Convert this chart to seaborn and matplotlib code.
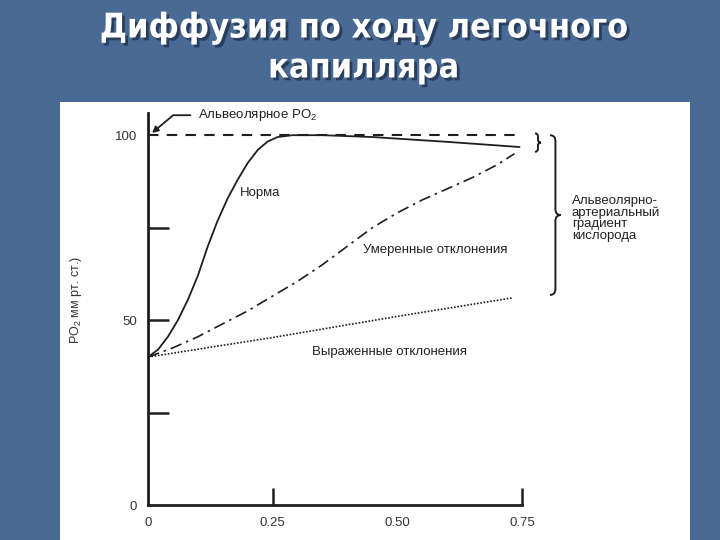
import numpy as np
import pandas as pd
import seaborn as sns
import matplotlib.pyplot as plt
import matplotlib.patheffects as pe
from matplotlib.path import Path
from matplotlib.patches import PathPatch, Rectangle

# Data (fraction of capillary transit time, s; PO2, mm Hg)
norm_x = [0, 0.02, 0.04, 0.06, 0.08, 0.10, 0.12, 0.14, 0.16, 0.18, 0.20, 0.22,
          0.24, 0.26, 0.29, 0.35, 0.45, 0.60, 0.745]
norm_y = [40, 42, 45.5, 50, 55.5, 62, 70, 77, 83, 88, 92.5, 96,
          98.3, 99.5, 100, 100, 99.5, 98.2, 96.8]
mod_x = [0, 0.05, 0.10, 0.15, 0.20, 0.25, 0.30, 0.35, 0.40, 0.45, 0.50,
         0.55, 0.60, 0.65, 0.70, 0.735]
mod_y = [40, 42.5, 45.5, 49, 52.5, 56.5, 60.5, 65, 70, 75, 79,
         82.5, 85.5, 88.5, 92, 95]
sev_x = [0, 0.25, 0.50, 0.73]
sev_y = [40, 45.3, 51, 56]
alv_po2 = 100

x_ticks = [0, 0.25, 0.50, 0.75]
x_tick_labels = ['0', '0.25', '0.50', '0.75']
y_ticks = [0, 50, 100]
y_tick_labels = ['0', '50', '100']

title_lines = ['Диффузия по ходу легочного', 'капилляра']

sns.set_theme(style='white')
plt.rcParams['font.family'] = ['Liberation Sans', 'DejaVu Sans']
plt.rcParams['mathtext.fontset'] = 'custom'
plt.rcParams['mathtext.rm'] = 'Liberation Sans'
plt.rcParams['mathtext.it'] = 'Liberation Sans'

ink = '#1e1e1e'
bg = '#4a6a96'

fig = plt.figure(figsize=(7.2, 5.4), dpi=100, facecolor=bg)
fig.add_artist(Rectangle((60 / 720, 0), 630 / 720, 438 / 540, transform=fig.transFigure,
                         facecolor='white', edgecolor='none', zorder=-1))

ax = fig.add_axes([148 / 720, 35 / 540, 374 / 720, 392 / 540])
ax.set_facecolor('none')

# curves
sns.lineplot(x=[0, 0.75], y=[alv_po2, alv_po2], ax=ax, color=ink, lw=1.5,
             linestyle=(0, (5, 4)), clip_on=False)
sns.lineplot(x=norm_x, y=norm_y, ax=ax, color=ink, lw=1.3, clip_on=False)
sns.lineplot(x=mod_x, y=mod_y, ax=ax, color=ink, lw=1.2,
             linestyle=(0, (7, 3, 1.5, 3)), clip_on=False)
sns.lineplot(x=sev_x, y=sev_y, ax=ax, color=ink, lw=1.2,
             linestyle=(0, (1, 1)), clip_on=False)

ax.set_xlim(0, 0.75)
ax.set_ylim(0, 106)
for s in ['top', 'right']:
    ax.spines[s].set_visible(False)
for s in ['left', 'bottom']:
    ax.spines[s].set_linewidth(2)
    ax.spines[s].set_color(ink)

ax.set_xticks(x_ticks, x_tick_labels)
ax.set_yticks(y_ticks, y_tick_labels)
ax.set_xticks([0.25, 0.75], minor=True)
ax.set_yticks([25, 50, 75], minor=True)
# keep the short inner ticks even where a label sits
ax.xaxis.remove_overlapping_locs = False
ax.yaxis.remove_overlapping_locs = False
ax.tick_params(which='major', length=0, labelsize=9.5, labelcolor='#333333',
               bottom=True, left=True)
ax.tick_params(axis='x', which='major', pad=9)
ax.tick_params(axis='y', which='major', pad=8)
ax.tick_params(axis='x', which='minor', direction='in', length=12, width=1.8,
               color=ink, bottom=True)
ax.tick_params(axis='y', which='minor', direction='in', length=15, width=1.8,
               color=ink, left=True)

ax.set_ylabel('PO$_2$ мм рт. ст.)', fontsize=9, color='#333333')
ax.yaxis.set_label_coords(-0.17, 0.523)

# labels on the curves
txt = dict(fontsize=9.5, color='#222222', va='center', ha='left')
ax.text(0.184, 84.3, 'Норма', **txt)
ax.text(0.431, 68.9, 'Умеренные отклонения', **txt)
ax.text(0.329, 41.4, 'Выраженные отклонения', **txt)
ax.annotate('Альвеолярное PO$_2$', xy=(0.008, 100.6), xytext=(0.1, 105.4),
            annotation_clip=False, **txt,
            arrowprops=dict(arrowstyle='-|>', color=ink, lw=1.3, mutation_scale=9,
                            connectionstyle='angle,angleA=0,angleB=40,rad=0',
                            relpos=(0, 0.5), shrinkA=3, shrinkB=0))


def brace(ax, x, y0, y1, w, r):
    mid = (y0 + y1) / 2
    q = x + w / 2
    verts = [(x, y1), (q, y1), (q, y1 - r), (q, mid + r), (q, mid), (x + w, mid),
             (q, mid), (q, mid - r), (q, y0 + r), (q, y0), (x, y0)]
    codes = [Path.MOVETO, Path.CURVE3, Path.CURVE3, Path.LINETO, Path.CURVE3,
             Path.CURVE3, Path.CURVE3, Path.CURVE3, Path.LINETO, Path.CURVE3, Path.CURVE3]
    ax.add_patch(PathPatch(Path(verts, codes), facecolor='none', edgecolor=ink,
                           lw=1.4, clip_on=False))


brace(ax, 0.776, norm_y[-1] - 1.3, alv_po2 + 0.5, 0.012, 0.8)
brace(ax, 0.806, sev_y[-1] + 0.8, alv_po2, 0.022, 1.6)
ax.text(0.85, 77.5, 'Альвеолярно-\nартериальный\nградиент\nкислорода',
        fontsize=9.5, color='#222222', va='center', ha='left', linespacing=0.95,
        clip_on=False)

# slide title
shadow = [pe.withSimplePatchShadow(offset=(2, -2), shadow_rgbFace='#1b2b45', alpha=0.7)]
for i, line in enumerate(title_lines):
    fig.text(0.505, 1 - (28 + 40 * i) / 540, line, ha='center', va='center',
             fontsize=24.5, fontweight='bold', fontstretch='condensed', color='white',
             family=['DejaVu Sans'], path_effects=shadow)

fig.savefig('out.png', dpi=100, facecolor=bg)
